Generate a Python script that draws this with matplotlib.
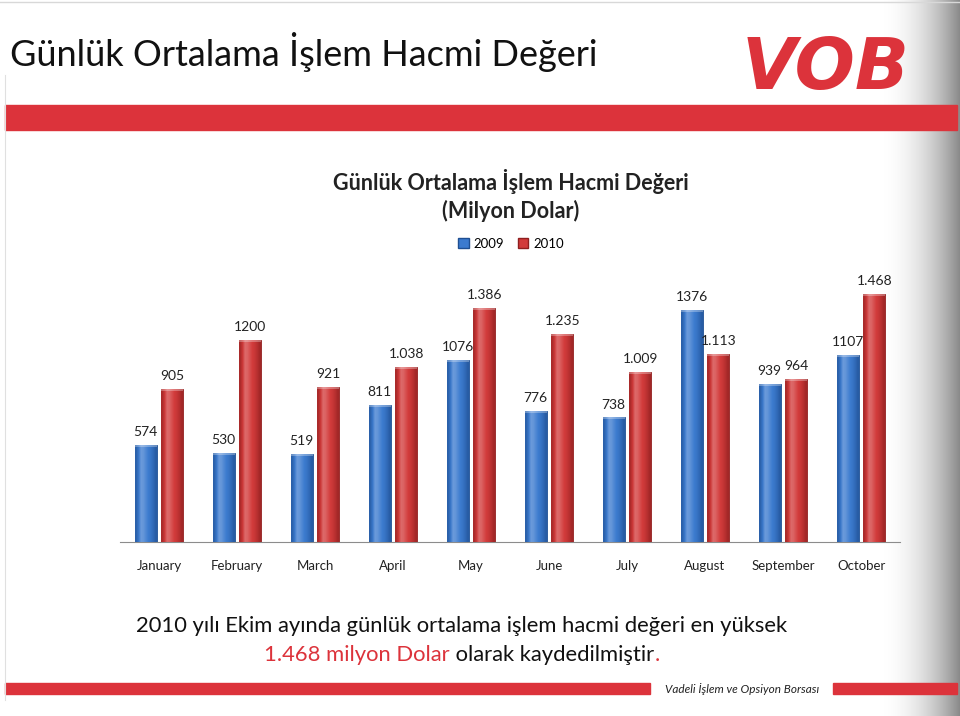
import numpy as np
import matplotlib
matplotlib.use("Agg")
import matplotlib.pyplot as plt
from matplotlib.patches import Rectangle
from matplotlib.colors import LinearSegmentedColormap

months = ["January", "February", "March", "April", "May", "June",
          "July", "August", "September", "October"]
vol_2009 = [574, 530, 519, 811, 1076, 776, 738, 1376, 939, 1107]
vol_2010 = [905, 1200, 921, 1038, 1386, 1235, 1009, 1113, 964, 1468]
labels_2009 = ["574", "530", "519", "811", "1076", "776", "738", "1376", "939", "1107"]
labels_2010 = ["905", "1200", "921", "1.038", "1.386", "1.235", "1.009", "1.113", "964", "1.468"]

RED = "#dc333b"
BLUE = "#3c7bcf"
BAR_RED = "#d23b3b"

plt.rcParams['font.family'] = ['Lato', 'DejaVu Sans']

W, H = 960, 716
fig = plt.figure(figsize=(W / 100, H / 100), dpi=100)

def fx(px):
    return px / W

def fy(py):
    return 1 - py / H

# page decoration: gray gradient at the right edge, red bands
bg = fig.add_axes([0, 0, 1, 1], zorder=-5)
bg.set_xlim(0, W)
bg.set_ylim(H, 0)
bg.axis("off")
grad = np.tile(np.linspace(0, 1, 200) ** 2.0, (2, 1))
gcm = LinearSegmentedColormap.from_list("g", ["#ffffff", "#8a8a8a"])
bg.imshow(grad, extent=[880, 960, H, 0], cmap=gcm, aspect="auto", zorder=1)
bg.add_patch(Rectangle((5, 105), 952, 25, color=RED, zorder=2))
bg.add_patch(Rectangle((5, 683), 645, 11, color=RED, zorder=2))
bg.add_patch(Rectangle((833, 683), 124, 11, color=RED, zorder=2))
bg.plot([0, 960], [2, 2], color="#d8d8d8", lw=1, zorder=2)
bg.plot([5, 5], [75, 700], color="#e0e0e0", lw=0.8, zorder=2)

fig.text(fx(10), fy(52), "Günlük Ortalama İşlem Hacmi Değeri", fontsize=26,
         va="center", ha="left", color="#111111")
fig.text(fx(826), fy(70), "VOB", fontsize=51, fontweight="bold", style="italic",
         family="DejaVu Sans", color=RED, ha="center", va="center")
fig.text(fx(742), fy(689), "Vadeli İşlem ve Opsiyon Borsası", fontsize=8.5,
         style="italic", ha="center", va="center", color="#222222")

# chart titles and legend
fig.text(fx(511), fy(182), "Günlük Ortalama İşlem Hacmi Değeri", fontsize=15.5,
         fontweight="bold", ha="center", va="center", color="#222222")
fig.text(fx(511), fy(211), "(Milyon Dolar)", fontsize=15.5,
         fontweight="bold", ha="center", va="center", color="#222222")

ax = fig.add_axes([fx(120), fy(542), fx(900) - fx(120), (542 - 272) / H])
x = np.arange(len(months))
bw = 0.28
off = 0.17

def shaded_bars(xpos, vals, base, dark):
    bars = ax.bar(xpos, vals, bw, color=base, edgecolor=dark, linewidth=0.6, zorder=2)
    shade = np.array([[0.2, 0.45, 0.62, 0.6, 0.55, 0.5, 0.42, 0.3, 0.15]])
    cm = LinearSegmentedColormap.from_list("s", [dark, base, "#ffffff"])
    for b in bars:
        x0, w, h = b.get_x(), b.get_width(), b.get_height()
        im = ax.imshow(shade, extent=[x0, x0 + w, 0, h], cmap=cm,
                       vmin=0, vmax=1, aspect="auto", zorder=3, interpolation="bilinear")
        im.set_clip_path(b)
        ax.add_patch(Rectangle((x0, h - 12), w, 12, facecolor="white",
                               alpha=0.3, edgecolor="none", zorder=4))
    return bars

b1 = shaded_bars(x - off, vol_2009, BLUE, "#1f4f92")
b2 = shaded_bars(x + off, vol_2010, BAR_RED, "#8f1f1f")

for xi, v, t in zip(x - off, vol_2009, labels_2009):
    ax.annotate(t, (xi, v), xytext=(0, 5), textcoords="offset points",
                ha="center", va="bottom", fontsize=10, color="#222222")
for xi, v, t in zip(x + off, vol_2010, labels_2010):
    ax.annotate(t, (xi, v), xytext=(0, 5), textcoords="offset points",
                ha="center", va="bottom", fontsize=10, color="#222222")

ax.set_xlim(-0.5, len(months) - 0.5)
ax.set_ylim(0, 1600)
ax.set_yticks([])
ax.set_xticks(x)
ax.set_xticklabels(months, fontsize=9.5, color="#222222")
ax.tick_params(axis="x", length=0, pad=13)
for s in ["top", "right", "left"]:
    ax.spines[s].set_visible(False)
ax.spines["bottom"].set_color("#8c8c8c")
ax.patch.set_alpha(0)

leg_h = [Rectangle((0, 0), 1, 1, facecolor=BLUE, edgecolor="#1f4f92"),
         Rectangle((0, 0), 1, 1, facecolor=BAR_RED, edgecolor="#8f1f1f")]
fig.legend(leg_h, ["2009", "2010"], loc="center", bbox_to_anchor=(fx(511), fy(244)),
           ncol=2, frameon=False, fontsize=9.5, handlelength=0.8, handleheight=0.8,
           columnspacing=1.0, handletextpad=0.4)

# bottom note
fig.text(fx(462), fy(626), "2010 yılı Ekim ayında günlük ortalama işlem hacmi değeri en yüksek",
         fontsize=15.8, ha="center", va="center", color="#111111")
parts = [("1.468 milyon Dolar", RED), (" olarak kaydedilmiştir", "#111111"), (".", RED)]
fig.canvas.draw()
r = fig.canvas.get_renderer()
texts = [fig.text(0, fy(655), p, fontsize=15.8, va="center", color=c) for p, c in parts]
widths = [t.get_window_extent(r).width for t in texts]
start = 462 - sum(widths) / 2
for t, w in zip(texts, widths):
    t.set_x(fx(start))
    start += w

fig.savefig("out.png", dpi=100)
